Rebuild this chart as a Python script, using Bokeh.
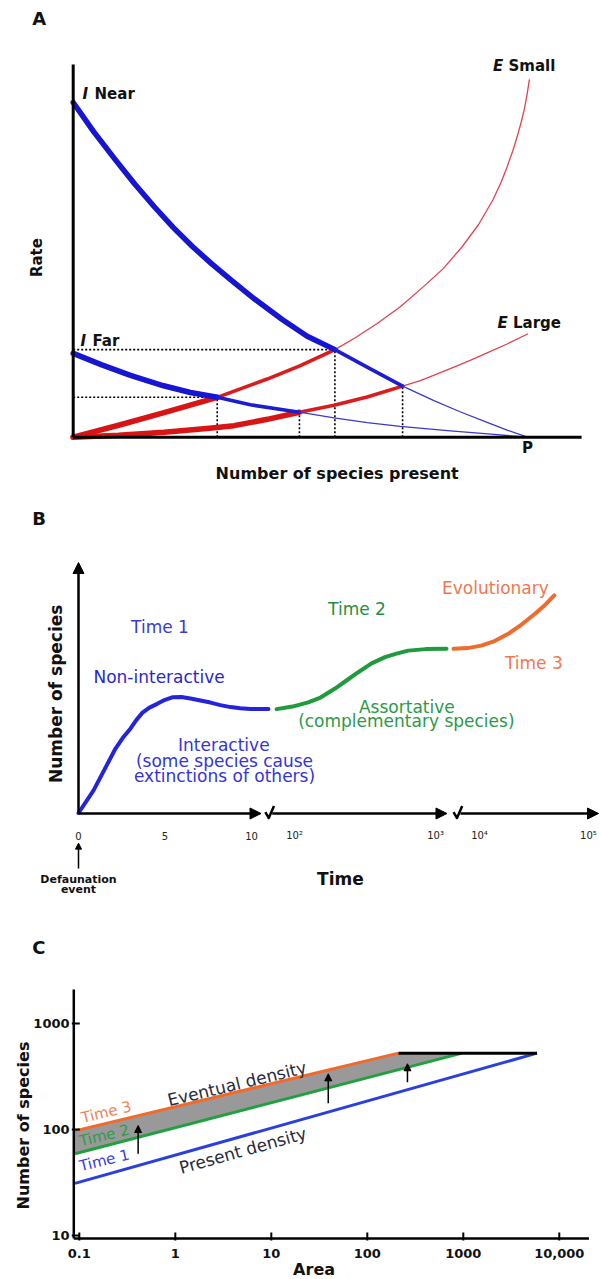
import numpy as np
from bokeh.plotting import figure
from bokeh.models import Range1d, Arrow, NormalHead
from bokeh.layouts import column
from bokeh.core.properties import value
from bokeh.embed import file_html
from bokeh.resources import INLINE

FONT = "DejaVu Sans"

# ---------------- Panel A data (species present 0..P=100, rate 0..100) ----------------
a_inear_x = [0, 4.5, 9.3, 13.5, 17.8, 22.0, 26.3, 30.5, 34.7, 40.0, 46.0, 51.5, 57.6, 65.0, 72.5, 79.4, 85.0, 91.1, 95.5, 100]
a_inear_y = [89.8, 82.0, 74.4, 68.0, 61.9, 56.3, 51.1, 46.5, 42.2, 37.0, 31.6, 27.1, 23.5, 18.6, 13.7, 9.8, 6.9, 4.0, 1.9, 0]
a_ifar_x = [0, 6.3, 12.6, 19.9, 25.8, 31.7, 39.0, 49.8, 57.4, 64.7, 72.0, 83.0, 92.0, 100]
a_ifar_y = [22.5, 19.4, 16.6, 13.8, 12.0, 10.7, 8.7, 6.7, 5.2, 3.9, 2.9, 1.7, 0.8, 0]
a_esmall_x = [0, 10, 20, 31.7, 42.7, 50, 57.6, 62, 66.9, 72, 77.1, 81.5, 85.6, 89.2, 92.4, 94.2, 95.5,
              96.8, 97.8, 98.6, 99.3, 99.9, 100.4]
a_esmall_y = [0, 3.2, 6.6, 10.7, 15.6, 19.2, 23.5, 26.6, 30.5, 35.0, 40.4, 45.3, 51.1, 57.0, 63.7, 68.5,
              72.5, 77.0, 81.0, 84.5, 88.0, 92.0, 95.9]
a_elarge_x = [0, 10, 20, 30, 35.4, 42.7, 49.8, 57.4, 64.7, 72.5, 76.4, 80.0, 83.8, 87.5, 91.1, 95.5, 100]
a_elarge_y = [0, 0.5, 1.3, 2.4, 3.1, 4.8, 6.7, 8.6, 10.8, 13.7, 15.2, 16.9, 18.8, 20.7, 22.6, 25.0, 27.7]
# equilibria (intersections): I Far/E Small, I Far/E Large, I Near/E Small, I Near/E Large
a_eq_x = [31.7, 49.8, 57.6, 72.5]
a_eq_y = [10.7, 6.7, 23.5, 13.7]

# ---------------- Panel B data (time position u, species v) ----------------
b_t1_u = [0.0, 0.87, 1.5, 2.14, 2.6, 3.01, 3.35, 3.70, 4.1, 4.55, 5.0, 5.42, 5.95, 6.47, 7.05, 7.63,
          8.2, 8.79, 9.35, 9.94, 10.98]
b_t1_v = [0.2, 9.2, 17.5, 25.9, 30.5, 33.9, 37.3, 40.2, 42.2, 43.7, 45.3, 46.3, 46.4, 45.8, 45.0, 44.2,
          43.2, 42.4, 41.9, 41.6, 41.6]
b_t2_u = [11.45, 12.37, 13.28, 13.99, 14.83, 15.49, 16.17, 16.94, 17.72, 18.38, 19.06, 20.06, 21.27]
b_t2_v = [41.6, 42.6, 44.3, 46.2, 49.8, 53.0, 56.3, 59.8, 62.3, 63.7, 64.9, 65.5, 65.6]
b_t3_u = [21.68, 22.49, 23.28, 24.05, 24.84, 25.61, 26.39, 27.0, 27.5]
b_t3_v = [65.6, 65.9, 66.9, 68.7, 71.6, 75.3, 79.6, 83.3, 86.9]
b_tick_u = [0, 5, 10, 12.49, 20.64, 23.18, 29.48]
b_tick_labels = ["0", "5", "10", "10\u00b2", "10\u00b3", "10\u2074", "10\u2075"]
b_axis_segments = [(0, 10.55), (11.2, 21.3), (22.08, 30.06)]
b_breaks_u = [11.0, 21.88]

# ---------------- Panel C data (area, number of species) ----------------
c_t1_area = [0.09, 5860]
c_t1_sp = [31, 525]
c_t2_area = [0.09, 970]
c_t2_sp = [59, 525]
c_t3_area = [0.09, 211]
c_t3_sp = [97, 525]
c_cap_area = [211, 5860]
c_cap_sp = [525, 525]
c_arrow_area = [0.41, 39.2, 262]
c_arrow_from = [59, 177, 279]
c_arrow_to = [109, 335, 417]
c_xticks = [0.1, 1, 10, 100, 1000, 10000]
c_xlabels = ["0.1", "1", "10", "100", "1000", "10,000"]
c_yticks = [10, 100, 1000]
c_ylabels = ["10", "100", "1000"]
c_xlim = [0.0876, 20370]   # extent of the drawn axes
c_ylim = [9.37, 2093]


def bare(p):
    p.grid.visible = False
    p.outline_line_color = None
    p.background_fill_color = "white"
    p.border_fill_color = "white"


def split3(xs, ys, cuts):
    bounds = [-1e9] + list(cuts) + [1e9]
    out = []
    for lo, hi in zip(bounds[:-1], bounds[1:]):
        sx = [x for x in xs if lo <= x <= hi]
        sy = [y for x, y in zip(xs, ys) if lo <= x <= hi]
        out.append((sx, sy))
    return out


# ======================= Panel A =======================
pA = figure(width=602, height=490, x_range=Range1d(-16.0, 116.5), y_range=Range1d(-14.3, 117.17),
            x_axis_location=None, y_axis_location=None, output_backend="svg",
            toolbar_location=None, min_border=0, title=None)
bare(pA)

for i in [0, 2]:
    pA.line([0, a_eq_x[i]], [a_eq_y[i], a_eq_y[i]], line_color="black", line_width=1.6, line_dash="2 2")
for i in range(4):
    pA.line([a_eq_x[i], a_eq_x[i]], [0, a_eq_y[i]], line_color="black", line_width=1.6, line_dash="2 2")

widths = [5.5, 3.6, 1.3]
red_cols = ["#d81414", "#dc1c1c", "#e0424f"]
blue_cols = ["#1616d2", "#1c1cd0", "#3a3ac8"]
for xs, ys, cuts in [(a_esmall_x, a_esmall_y, [a_eq_x[0], a_eq_x[2]]),
                     (a_elarge_x, a_elarge_y, [a_eq_x[1], a_eq_x[3]])]:
    for (sx, sy), w, c in zip(split3(xs, ys, cuts), widths, red_cols):
        pA.line(sx, sy, line_color=c, line_width=w, line_cap="round", line_join="round")
for xs, ys, cuts in [(a_inear_x, a_inear_y, [a_eq_x[2], a_eq_x[3]]),
                     (a_ifar_x, a_ifar_y, [a_eq_x[0], a_eq_x[1]])]:
    for (sx, sy), w, c in zip(split3(xs, ys, cuts), widths, blue_cols):
        pA.line(sx, sy, line_color=c, line_width=w, line_cap="round", line_join="round")

pA.line([0, 0], [0, 100], line_color="black", line_width=3)
pA.line([0, 111.9], [0, 0], line_color="black", line_width=3)

pA.text(x=[2.05, 1.6, 92.4, 93.4], y=[92.2, 25.9, 99.7, 30.6], text=["I", "I", "E", "E"],
        text_font=value(FONT), text_font_style="bold italic", text_font_size="15px",
        text_align="left", text_baseline="middle", text_color="#111111")
pA.text(x=[4.7, 4.25, 95.8, 96.8], y=[92.2, 25.9, 99.7, 30.6], text=["Near", "Far", "Small", "Large"],
        text_font=value(FONT), text_font_style="bold", text_font_size="15px",
        text_align="left", text_baseline="middle", text_color="#111111")
pA.text(x=[100], y=[-2.8], text=["P"], text_font=value(FONT), text_font_style="bold",
        text_font_size="15px", text_align="center", text_baseline="middle", text_color="#111111")
pA.text(x=[58.1], y=[-9.8], text=["Number of species present"], text_font=value(FONT),
        text_font_style="bold", text_font_size="16px", text_align="center", text_baseline="middle",
        text_color="#111111")
pA.text(x=[-7.97], y=[48.2], text=["Rate"], angle=np.pi / 2, text_font=value(FONT),
        text_font_style="bold", text_font_size="15px", text_align="center", text_baseline="middle",
        text_color="#111111")
pA.text(x=[-7.5], y=[112.3], text=["A"], text_font=value(FONT), text_font_style="bold",
        text_font_size="18px", text_align="center", text_baseline="middle", text_color="#111111")

# ======================= Panel B =======================
pB = figure(width=602, height=415, x_range=Range1d(-4.509, 30.29), y_range=Range1d(-36.65, 128.7),
            x_axis_location=None, y_axis_location=None, output_backend="svg",
            toolbar_location=None, min_border=0, title=None)
bare(pB)

pB.line(b_t1_u, b_t1_v, line_color="#2424dc", line_width=4, line_cap="round", line_join="round")
pB.line(b_t2_u, b_t2_v, line_color="#1f9a3c", line_width=4, line_cap="round", line_join="round")
pB.line(b_t3_u, b_t3_v, line_color="#f26b2e", line_width=4, line_cap="round", line_join="round")

pB.add_layout(Arrow(end=NormalHead(size=11, fill_color="black", line_color="black", line_width=1),
                    x_start=0, y_start=0, x_end=0, y_end=100, line_width=2.5, line_color="black"))
for s, e in b_axis_segments:
    pB.add_layout(Arrow(end=NormalHead(size=11, fill_color="black", line_color="black", line_width=1),
                        x_start=s, y_start=0, x_end=e, y_end=0, line_width=2.5, line_color="black"))
for bu in b_breaks_u:
    pB.line([bu - 0.2, bu, bu + 0.3], [0.6, -1.8, 3.0], line_color="black", line_width=2.5,
            line_join="round")

pB.text(x=b_tick_u, y=[-8.8] * len(b_tick_u), text=b_tick_labels, text_font=value(FONT),
        text_font_size="10px", text_align="center", text_baseline="middle", text_color="#222222")
pB.add_layout(Arrow(end=NormalHead(size=6, fill_color="black", line_color="black", line_width=1),
                    x_start=0, y_start=-21.9, x_end=0, y_end=-11.8, line_width=1.5, line_color="black"))
pB.text(x=[0, 0], y=[-26.3, -30.4], text=["Defaunation", "event"], text_font=value(FONT),
        text_font_style="bold", text_font_size="11px", text_align="center", text_baseline="middle",
        text_color="#111111")
pB.text(x=[15.14], y=[-25.9], text=["Time"], text_font=value(FONT), text_font_style="bold",
        text_font_size="17px", text_align="center", text_baseline="middle", text_color="#111111")
pB.text(x=[-1.28], y=[47.7], text=["Number of species"], angle=np.pi / 2, text_font=value(FONT),
        text_font_style="bold", text_font_size="17px", text_align="center", text_baseline="middle",
        text_color="#111111")
pB.text(x=[-2.28], y=[117.5], text=["B"], text_font=value(FONT), text_font_style="bold",
        text_font_size="18px", text_align="center", text_baseline="middle", text_color="#111111")

b_txt = ["Time 1", "Non-interactive", "Interactive", "(some species cause", "extinctions of others)",
         "Time 2", "Assortative", "(complementary species)", "Evolutionary", "Time 3"]
b_txt_u = [4.71, 4.66, 8.40, 8.44, 8.44, 16.1, 18.98, 18.95, 24.1, 26.32]
b_txt_v = [74.5, 54.2, 27.1, 20.8, 14.9, 81.3, 42.35, 37.05, 89.9, 59.8]
b_txt_col = ["#3a3ad6", "#2828d0", "#3434dc", "#3434dc", "#3434dc",
             "#1f9040", "#2a9a48", "#2a9a48", "#f07850", "#f07850"]
pB.text(x=b_txt_u, y=b_txt_v, text=b_txt, text_color=b_txt_col, text_font=value(FONT),
        text_font_size="17px", text_align="center", text_baseline="middle")

# ======================= Panel C (log-log) =======================
pC = figure(width=602, height=374, x_axis_type="log", y_axis_type="log",
            x_range=Range1d(0.0151, 28190), y_range=Range1d(3.846, 12977),
            x_axis_location=None, y_axis_location=None,
            output_backend="svg", toolbar_location=None, title=None, min_border=0)
bare(pC)

patch_x = c_t3_area + [c_t2_area[-1]] + c_t2_area[::-1]
patch_y = c_t3_sp + [c_t2_sp[-1]] + c_t2_sp[::-1]
pC.patch(patch_x, patch_y, fill_color="#999999", line_color=None)

pC.line(c_t1_area, c_t1_sp, line_color="#2a3fe0", line_width=3)
pC.line(c_t2_area, c_t2_sp, line_color="#21a041", line_width=3)
pC.line(c_t3_area, c_t3_sp, line_color="#f26a2b", line_width=3)
pC.line(c_cap_area, c_cap_sp, line_color="black", line_width=3)

for a, s, e in zip(c_arrow_area, c_arrow_from, c_arrow_to):
    pC.add_layout(Arrow(end=NormalHead(size=7, fill_color="black", line_color="black", line_width=1),
                        x_start=a, y_start=s, x_end=a, y_end=e, line_width=1.5, line_color="black"))

tin_x = 10 ** (6 / 96)
tout_x = 10 ** (-2 / 96)
tin_y = 10 ** (6 / 106)
tout_y = 10 ** (-2 / 106)
pC.segment(x0=c_xticks, x1=c_xticks, y0=[c_ylim[0] * tout_y] * len(c_xticks),
           y1=[c_ylim[0] * tin_y] * len(c_xticks), line_color="black", line_width=2)
pC.segment(x0=[c_xlim[0] * tout_x] * len(c_yticks), x1=[c_xlim[0] * tin_x] * len(c_yticks),
           y0=c_yticks, y1=c_yticks, line_color="black", line_width=2)
pC.line([c_xlim[0], c_xlim[0]], c_ylim, line_color="black", line_width=2.5)
pC.line(c_xlim, [c_ylim[0], c_ylim[0]], line_color="black", line_width=2.5)

pC.text(x=c_xticks, y=[6.76] * len(c_xticks), text=c_xlabels, text_font=value(FONT),
        text_font_style="bold", text_font_size="13px", text_align="center", text_baseline="middle",
        text_color="#111111")
pC.text(x=[0.0791] * len(c_yticks), y=c_yticks, text=c_ylabels, text_font=value(FONT),
        text_font_style="bold", text_font_size="13px", text_align="right", text_baseline="middle",
        text_color="#111111")
pC.text(x=[27.9], y=[4.75], text=["Area"], text_font=value(FONT), text_font_style="bold",
        text_font_size="16px", text_align="center", text_baseline="middle", text_color="#111111")
pC.text(x=[0.02624], y=[109], text=["Number of species"], angle=np.pi / 2, text_font=value(FONT),
        text_font_style="bold", text_font_size="16px", text_align="center", text_baseline="middle",
        text_color="#111111")
pC.text(x=[0.038], y=[5250], text=["C"], text_font=value(FONT), text_font_style="bold",
        text_font_size="18px", text_align="center", text_baseline="middle", text_color="#111111")

ang3 = np.radians(13.6)
ang1 = np.radians(15.7)
pC.text(x=[0.191, 0.182, 0.182], y=[145.6, 87.8, 51.1], text=["Time 3", "Time 2", "Time 1"],
        text_color=["#f0825a", "#2e9b4a", "#3a3ae0"], angle=ang3, text_font=value(FONT),
        text_font_size="15px", text_align="center", text_baseline="middle")
pC.text(x=[4.39], y=[270], text=["Eventual density"], angle=ang3, text_color="#2a2a3a",
        text_font=value(FONT), text_font_size="17px", text_align="center", text_baseline="middle")
pC.text(x=[5.05], y=[63.4], text=["Present density"], angle=ang1, text_color="#2a2a3a",
        text_font=value(FONT), text_font_size="17px", text_align="center", text_baseline="middle")

layout = column(pA, pB, pC)
open("out.html", "w").write(file_html(layout, INLINE, "Island biogeography"))
